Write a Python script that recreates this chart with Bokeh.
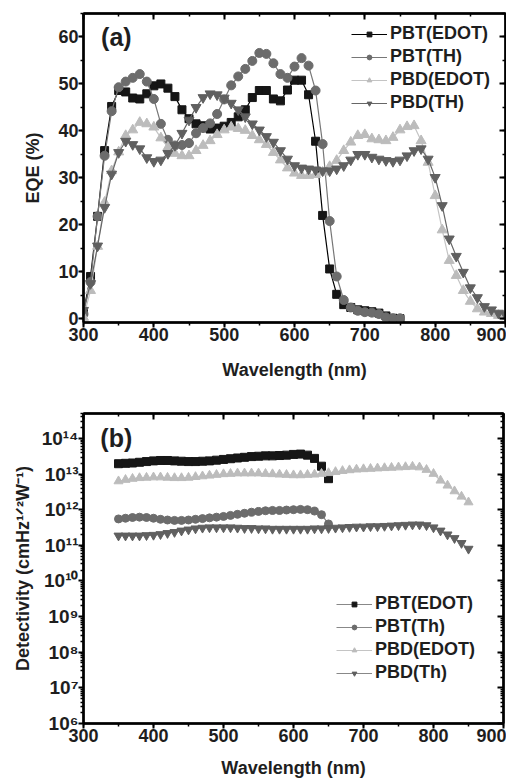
from bokeh.plotting import figure
from bokeh.layouts import column
from bokeh.models import (Range1d, LinearAxis, LogAxis, SingleIntervalTicker, FixedTicker,
                          CustomJSTickFormatter, Legend, LegendItem, Label)
from bokeh.embed import file_html
from bokeh.resources import INLINE

# ---------------- data: panel (a) EQE ----------------
wl_a_pbt = list(range(300, 751, 10))
wl_a_pbd = list(range(300, 901, 10))

eqe_pbt_edot = [1.5, 9.0, 21.8, 35.8, 45.2, 48.6, 48.3, 47.0, 46.8, 47.9,
                49.6, 50.0, 49.1, 47.3, 44.5, 42.6, 41.5, 41.1, 40.4, 40.6,
                41.0, 41.8, 43.0, 44.5, 47.1, 48.6, 48.6, 46.8, 46.4, 48.7,
                50.8, 50.8, 47.7, 37.8, 22.0, 10.6, 5.2, 3.0, 2.4, 1.9,
                1.7, 1.5, 1.2, 0.6, 0.1, 0.0]
eqe_pbt_th = [1.0, 7.8, 21.8, 34.7, 44.2, 49.3, 50.5, 51.3, 52.1, 50.5,
              46.8, 41.5, 38.1, 36.9, 37.0, 37.4, 39.5, 40.6, 41.6, 43.6,
              46.7, 49.7, 51.6, 53.2, 54.9, 56.6, 56.4, 54.4, 52.1, 51.3,
              53.7, 55.5, 53.9, 48.6, 37.2, 20.8, 9.0, 4.0, 2.4, 1.7,
              1.4, 1.3, 1.0, 0.3, 0.1, 0.1]
eqe_pbd_edot = [0.3, 6.0, 15.4, 24.8, 31.5, 35.5, 39.0, 40.2, 41.8, 41.5,
                40.8, 38.5, 36.5, 35.2, 34.7, 34.7, 35.8, 36.9, 37.9, 39.2,
                40.2, 40.8, 40.5, 40.1, 39.0, 38.1, 37.1, 35.4, 33.8, 32.1,
                31.0, 30.5, 30.5, 30.7, 31.2, 32.4, 33.7, 35.8, 37.6, 39.0,
                39.2, 38.3, 38.1, 37.9, 38.6, 40.2, 40.9, 41.1, 37.9, 33.3,
                26.2, 18.9, 12.4, 9.2, 6.0, 3.7, 2.1, 1.4, 1.1, 0.7, 0.4]
eqe_pbd_th = [1.8, 7.5, 15.5, 23.7, 30.8, 35.4, 37.8, 37.1, 36.2, 34.3,
              33.5, 33.8, 35.2, 36.9, 39.5, 42.3, 45.0, 47.1, 47.9, 47.7,
              47.0, 45.9, 44.5, 43.0, 41.5, 40.2, 38.8, 37.6, 35.8, 34.0,
              32.6, 32.1, 31.9, 31.7, 31.5, 31.5, 31.9, 32.6, 33.8, 35.0,
              35.0, 34.4, 34.0, 33.7, 33.5, 33.8, 34.7, 35.8, 36.2, 34.0,
              30.1, 24.1, 17.0, 13.3, 9.9, 6.6, 4.5, 2.6, 1.9, 1.2, 0.9]

# ---------------- data: panel (b) detectivity ----------------
wl_b_pbt = list(range(350, 651, 10))
wl_b_pbd = list(range(350, 851, 10))

det_pbt_edot = [1.95e13, 2.00e13, 2.04e13, 2.14e13, 2.24e13, 2.34e13, 2.40e13, 2.40e13,
                2.34e13, 2.29e13, 2.24e13, 2.24e13, 2.29e13, 2.34e13, 2.45e13, 2.57e13,
                2.69e13, 2.82e13, 2.95e13, 3.09e13, 3.16e13, 3.24e13, 3.24e13, 3.31e13,
                3.39e13, 3.55e13, 3.63e13, 3.39e13, 2.75e13, 1.66e13, 7.41e12]
det_pbt_th = [5.50e11, 5.75e11, 6.03e11, 6.17e11, 6.03e11, 5.75e11, 5.37e11, 5.13e11,
              5.01e11, 5.01e11, 5.13e11, 5.37e11, 5.62e11, 5.89e11, 6.17e11, 6.46e11,
              6.92e11, 7.41e11, 7.94e11, 8.51e11, 8.91e11, 9.33e11, 9.55e11, 9.55e11,
              9.77e11, 1.00e12, 1.02e12, 1.00e12, 9.12e11, 7.24e11, 3.98e11]
det_pbd_edot = [6.31e12, 6.92e12, 7.41e12, 7.76e12, 7.94e12, 8.13e12, 8.13e12, 7.94e12,
                7.76e12, 7.76e12, 7.94e12, 8.32e12, 8.71e12, 9.12e12, 9.55e12, 1.00e13,
                1.02e13, 1.05e13, 1.05e13, 1.05e13, 1.05e13, 1.02e13, 1.00e13, 9.77e12,
                9.55e12, 9.33e12, 9.33e12, 9.55e12, 9.77e12, 1.02e13, 1.07e13, 1.15e13,
                1.23e13, 1.29e13, 1.35e13, 1.38e13, 1.41e13, 1.45e13, 1.48e13, 1.51e13,
                1.55e13, 1.58e13, 1.62e13, 1.55e13, 1.32e13, 1.02e13, 6.61e12, 4.79e12,
                3.31e12, 2.34e12, 1.62e12]
det_pbd_th = [1.86e11, 1.86e11, 1.86e11, 1.86e11, 1.91e11, 1.95e11, 2.04e11, 2.19e11,
              2.34e11, 2.57e11, 2.75e11, 2.95e11, 3.09e11, 3.16e11, 3.16e11, 3.16e11,
              3.16e11, 3.09e11, 3.02e11, 3.02e11, 2.95e11, 2.95e11, 2.88e11, 2.88e11,
              2.88e11, 2.88e11, 2.88e11, 2.88e11, 2.95e11, 2.95e11, 3.02e11, 3.09e11,
              3.16e11, 3.24e11, 3.31e11, 3.31e11, 3.39e11, 3.39e11, 3.47e11, 3.55e11,
              3.63e11, 3.72e11, 3.80e11, 3.80e11, 3.63e11, 3.16e11, 2.57e11, 2.00e11,
              1.58e11, 1.15e11, 7.94e10]

labels_a = ["PBT(EDOT)", "PBT(TH)", "PBD(EDOT)", "PBD(TH)"]
labels_b = ["PBT(EDOT)", "PBT(Th)", "PBD(EDOT)", "PBD(Th)"]
log_major = [1e6, 1e7, 1e8, 1e9, 1e10, 1e11, 1e12, 1e13, 1e14]
log_minor = [m * d for d in [1e6, 1e7, 1e8, 1e9, 1e10, 1e11, 1e12, 1e13, 1e14]
             for m in [2, 3, 4, 5, 6, 7, 8, 9]]

FONT = "Liberation Sans"
C_BLACK = "#161616"
C_CIRC = "#6c6c6c"
C_LIGHT = "#bcbcbc"
C_DOWN = "#606060"
TXT = "#1e1e1e"

blank = CustomJSTickFormatter(code="return ''")
sup_fmt = CustomJSTickFormatter(code="""
const s = {'0':'\u2070','1':'\u00b9','2':'\u00b2','3':'\u00b3','4':'\u2074','5':'\u2075',
           '6':'\u2076','7':'\u2077','8':'\u2078','9':'\u2079','-':'\u207b'};
const e = Math.round(Math.log10(tick));
return '10' + String(e).split('').map(c => s[c]).join('');
""")


def style_axis(ax, lab=True):
    ax.axis_line_width = 2.5
    ax.axis_line_color = "black"
    ax.major_tick_line_width = 2
    ax.minor_tick_line_width = 1.5
    ax.major_tick_line_color = "black"
    ax.minor_tick_line_color = "black"
    ax.major_label_text_font = FONT
    ax.major_label_text_font_style = "bold"
    ax.major_label_text_font_size = "18px"
    ax.major_label_text_color = TXT
    ax.axis_label_text_font = FONT
    ax.axis_label_text_font_style = "bold"
    ax.axis_label_text_font_size = "18px"
    ax.axis_label_text_color = TXT
    if lab:
        ax.major_tick_out = 5
        ax.major_tick_in = 0
        ax.minor_tick_out = 3
        ax.minor_tick_in = 0
        ax.major_label_standoff = 0
    else:
        ax.major_tick_out = 0
        ax.major_tick_in = 6
        ax.minor_tick_out = 0
        ax.minor_tick_in = 3
        ax.formatter = blank
        ax.major_label_standoff = 0


def legend_for(p, items, loc):
    lg = Legend(items=items, location=loc)
    lg.label_text_font = FONT
    lg.label_text_font_style = "bold"
    lg.label_text_font_size = "18px"
    lg.label_text_color = TXT
    lg.border_line_alpha = 0
    lg.background_fill_alpha = 0
    lg.padding = 0
    lg.margin = 0
    lg.spacing = 0
    lg.glyph_width = 36
    lg.glyph_height = 12
    lg.label_height = 23
    lg.label_standoff = 3
    p.add_layout(lg)


# ================= panel (a) =================
pa = figure(frame_width=422, frame_height=309, output_backend="svg", toolbar_location=None,
            x_range=Range1d(300, 900), y_range=Range1d(-0.8, 65),
            min_border_left=80, min_border_right=4, min_border_top=13, min_border_bottom=63)
pa.grid.visible = False
pa.outline_line_color = "black"
pa.outline_line_width = 2
pa.xaxis.ticker = SingleIntervalTicker(interval=100, num_minor_ticks=2)
pa.yaxis.ticker = SingleIntervalTicker(interval=10, num_minor_ticks=2)
pa.xaxis.axis_label = "Wavelength (nm)"
pa.yaxis.axis_label = "EQE (%)"
style_axis(pa.xaxis[0])
style_axis(pa.yaxis[0])
pa.xaxis.axis_label_standoff = 16
pa.yaxis.axis_label_standoff = 12
ta = LinearAxis(ticker=SingleIntervalTicker(interval=100, num_minor_ticks=2))
ra = LinearAxis(ticker=SingleIntervalTicker(interval=10, num_minor_ticks=2))
style_axis(ta, False)
style_axis(ra, False)
pa.add_layout(ta, "above")
pa.add_layout(ra, "right")

series_a = [
    (wl_a_pbt, eqe_pbt_edot, "square", C_BLACK, "#000000", 8),
    (wl_a_pbt, eqe_pbt_th, "circle", C_CIRC, "#777777", 9),
    (wl_a_pbd, eqe_pbd_edot, "triangle", C_LIGHT, "#c4c4c4", 10),
    (wl_a_pbd, eqe_pbd_th, "inverted_triangle", C_DOWN, "#666666", 10),
]
items_a = []
for (xs, ys, mk, col, lcol, sz), lab in zip(series_a, labels_a):
    ln = pa.line(xs, ys, line_color=lcol, line_width=1.2)
    sc = pa.scatter(xs, ys, marker=mk, size=sz, fill_color=col, line_color=col)
    items_a.append(LegendItem(label=lab, renderers=[ln, sc]))
legend_for(pa, items_a, (268, 208))
pa.add_layout(Label(x=325, y=60, text="(a)", text_font=FONT, text_font_style="bold",
                    text_font_size="25px", text_baseline="middle", text_color=TXT))

# ================= panel (b) =================
pb = figure(frame_width=420, frame_height=310, output_backend="svg", toolbar_location=None,
            x_range=Range1d(300, 900), y_range=Range1d(1e6, 5e14), y_axis_type="log",
            min_border_left=83, min_border_right=3, min_border_top=28, min_border_bottom=60)
pb.grid.visible = False
pb.outline_line_color = "black"
pb.outline_line_width = 2
pb.xaxis.ticker = SingleIntervalTicker(interval=100, num_minor_ticks=2)
pb.yaxis.ticker = FixedTicker(ticks=log_major, minor_ticks=log_minor)
pb.yaxis.formatter = sup_fmt
pb.xaxis.axis_label = "Wavelength (nm)"
pb.yaxis.axis_label = "Detectivity (cmHz\u00b9\u141f\u00b2W\u207b\u00b9)"
style_axis(pb.xaxis[0])
style_axis(pb.yaxis[0])
pb.yaxis.major_label_text_font_size = "19px"
pb.xaxis.axis_label_standoff = 13
pb.yaxis.axis_label_standoff = 6
tb = LinearAxis(ticker=SingleIntervalTicker(interval=100, num_minor_ticks=2))
rb = LogAxis(ticker=FixedTicker(ticks=log_major, minor_ticks=log_minor))
style_axis(tb, False)
style_axis(rb, False)
pb.add_layout(tb, "above")
pb.add_layout(rb, "right")

series_b = [
    (wl_b_pbt, det_pbt_edot, "square", C_BLACK, "#888888", 8),
    (wl_b_pbt, det_pbt_th, "circle", C_CIRC, "#888888", 8),
    (wl_b_pbd, det_pbd_edot, "triangle", C_LIGHT, "#c4c4c4", 9),
    (wl_b_pbd, det_pbd_th, "inverted_triangle", C_DOWN, "#888888", 9),
]
items_b = []
for (xs, ys, mk, col, lcol, sz), lab in zip(series_b, labels_b):
    ln = pb.line(xs, ys, line_color=lcol, line_width=1.2)
    sc = pb.scatter(xs, ys, marker=mk, size=sz, fill_color=col, line_color=col)
    items_b.append(LegendItem(label=lab, renderers=[ln, sc]))
legend_for(pb, items_b, (253, 39))
pb.add_layout(Label(x=324, y=1e14, text="(b)", text_font=FONT, text_font_style="bold",
                    text_font_size="25px", text_baseline="middle", text_color=TXT))

layout = column(pa, pb, spacing=0)
open("out.html", "w").write(file_html(layout, INLINE))
